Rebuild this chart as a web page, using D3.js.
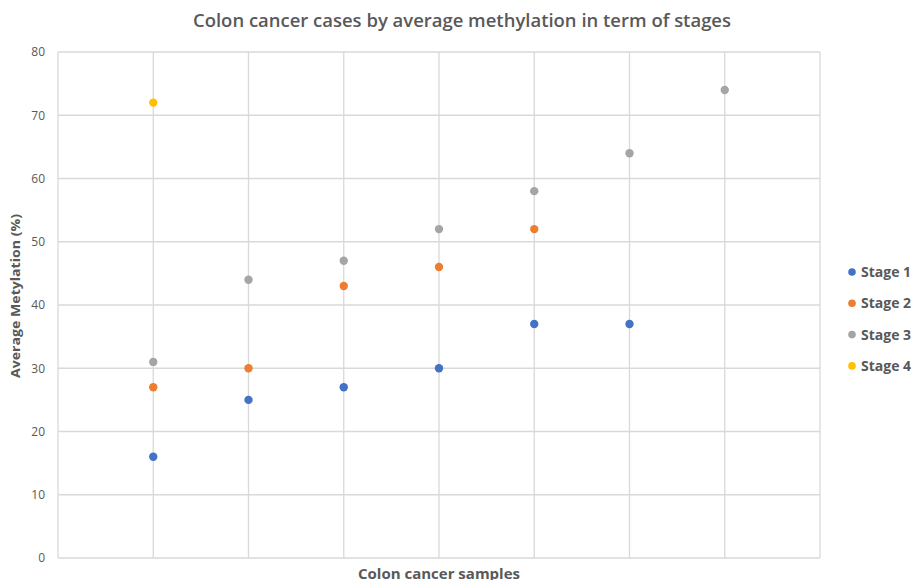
<!DOCTYPE html>
<html>
<head>
<meta charset="utf-8">
<title>Colon cancer methylation</title>
<script src="https://d3js.org/d3.v7.min.js"></script>
<style>
  body { margin: 0; background: #fff; }
  text { font-family: "Open Sans", "Liberation Sans", sans-serif; }
</style>
</head>
<body>
<svg width="919" height="580"></svg>
<script>
// sample index on the x axis (1..7)
var stage1 = [[1, 16], [2, 25], [3, 27], [4, 30], [5, 37], [6, 37]];
var stage2 = [[1, 27], [2, 30], [3, 43], [4, 46], [5, 52]];
var stage3 = [[1, 31], [2, 44], [3, 47], [4, 52], [5, 58], [6, 64], [7, 74]];
var stage4 = [[1, 72]];
var seriesNames = ["Stage 1", "Stage 2", "Stage 3", "Stage 4"];
var yTicks = [0, 10, 20, 30, 40, 50, 60, 70, 80];

var series = [stage1, stage2, stage3, stage4];
var colors = ["#4472c4", "#ed7d31", "#a5a5a5", "#ffc000"];

var svg = d3.select("svg");
var margin = {left: 58, right: 99, top: 52, bottom: 22};
var width = 919, height = 580;

var x = d3.scaleLinear().domain([0, 8]).range([margin.left, width - margin.right]);
var y = d3.scaleLinear().domain([0, 80]).range([height - margin.bottom, margin.top]);

// grid
svg.append("g").selectAll("line")
  .data(yTicks)
  .enter().append("line")
    .attr("x1", x(0)).attr("x2", x(8))
    .attr("y1", function(d) { return y(d); })
    .attr("y2", function(d) { return y(d); })
    .attr("stroke", "#d9d9d9").attr("stroke-width", 1.3);

svg.append("g").selectAll("line")
  .data(d3.range(0, 9))
  .enter().append("line")
    .attr("x1", function(d) { return x(d); })
    .attr("x2", function(d) { return x(d); })
    .attr("y1", y(0)).attr("y2", y(80))
    .attr("stroke", "#d9d9d9").attr("stroke-width", 1.3);

// y axis labels
var yAxis = svg.append("g")
  .attr("transform", "translate(" + (x(0) - 13) + ",0)")
  .call(d3.axisLeft(y).tickValues(yTicks).tickSize(0).tickPadding(0));
yAxis.select(".domain").remove();
yAxis.selectAll("text")
  .attr("fill", "#595959")
  .style("font-size", "12px");

// points
series.forEach(function(s, i) {
  svg.append("g").selectAll("circle")
    .data(s)
    .enter().append("circle")
      .attr("cx", function(d) { return x(d[0]); })
      .attr("cy", function(d) { return y(d[1]); })
      .attr("r", 4.2)
      .attr("fill", colors[i]);
});

// title
svg.append("text")
  .attr("x", 462).attr("y", 27)
  .attr("text-anchor", "middle")
  .attr("fill", "#595959")
  .style("font-size", "18px")
  .style("font-weight", "600")
  .attr("textLength", 538)
  .attr("lengthAdjust", "spacingAndGlyphs")
  .text("Colon cancer cases by average methylation in term of stages");

// axis titles
svg.append("text")
  .attr("transform", "translate(20,296) rotate(-90)")
  .attr("text-anchor", "middle")
  .attr("fill", "#595959")
  .style("font-size", "13px")
  .style("font-weight", "bold")
  .attr("textLength", 164)
  .attr("lengthAdjust", "spacingAndGlyphs")
  .text("Average Metylation (%)");

svg.append("text")
  .attr("x", 439).attr("y", 579)
  .attr("text-anchor", "middle")
  .attr("fill", "#595959")
  .style("font-size", "15px")
  .style("font-weight", "bold")
  .attr("textLength", 162)
  .attr("lengthAdjust", "spacingAndGlyphs")
  .text("Colon cancer samples");

// legend
var legend = svg.append("g").selectAll("g")
  .data(seriesNames)
  .enter().append("g")
    .attr("transform", function(d, i) { return "translate(852," + (272 + i * 31.3) + ")"; });
legend.append("circle").attr("r", 3.8).attr("fill", function(d, i) { return colors[i]; });
legend.append("text")
  .attr("x", 9).attr("dy", "0.35em")
  .attr("fill", "#595959")
  .style("font-size", "14px")
  .style("font-weight", "bold")
  .text(function(d) { return d; });
</script>
</body>
</html>
